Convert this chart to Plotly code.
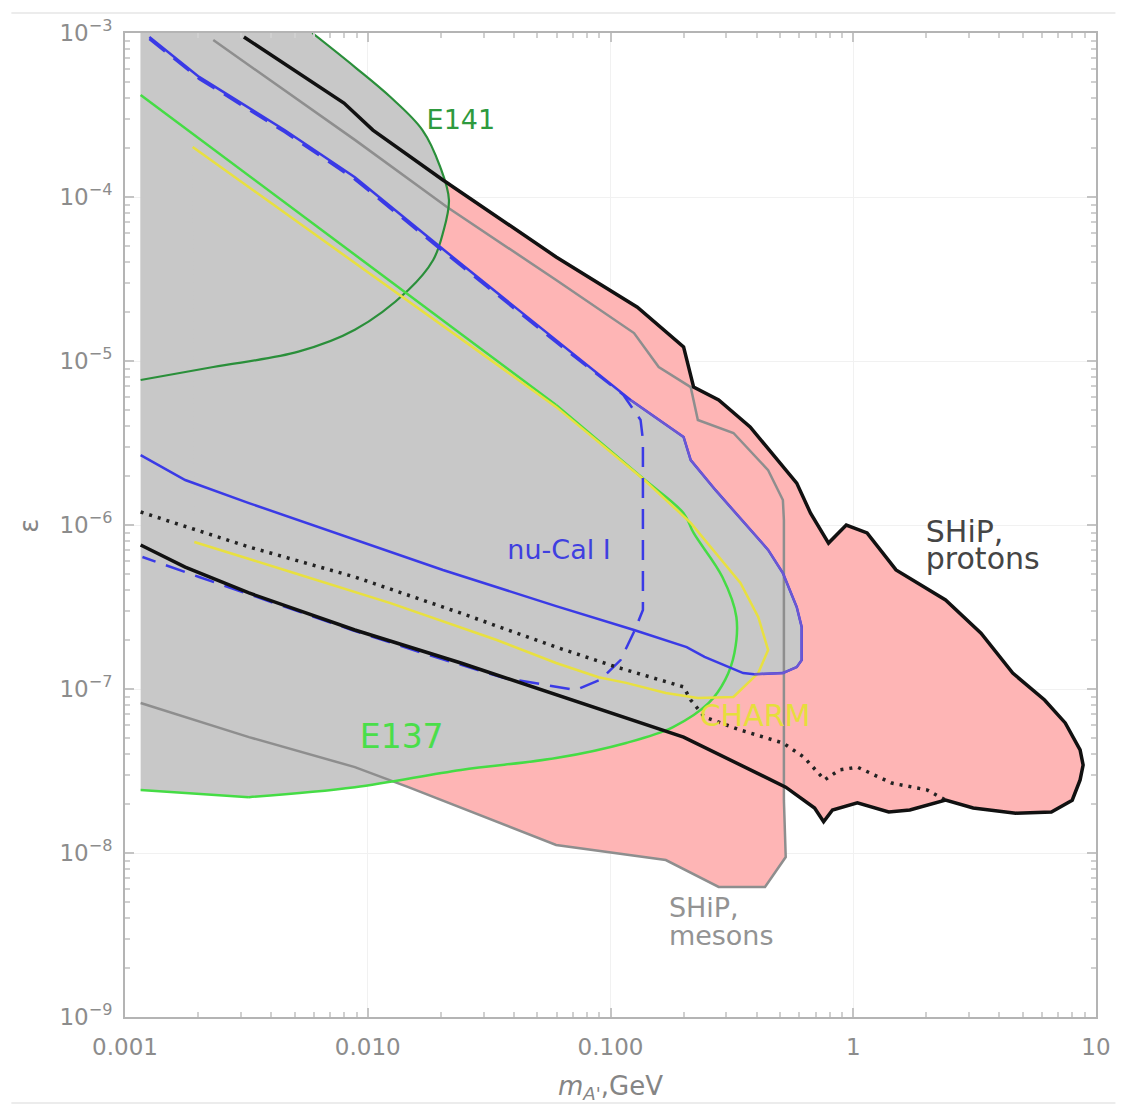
import plotly.graph_objects as go

# Lower edge of the computed mass grid and top of the plotted range
M_EDGE = 1.16e-3
EPS_TOP = 1e-3
# Pink areas are closed a little inside the grey band so no pink fringe shows at the edge
PINK_EDGE = 1.25e-3

# SHiP, protons: closed sensitivity contour
ship_p_mass = [3.09e-3, 7.98e-3, 1.05e-2, 2.04e-2, 5.97e-2, 0.129, 0.200, 0.220, 0.279, 0.376,
               0.585, 0.667, 0.791, 0.936, 1.14, 1.50, 2.40, 3.36, 4.54, 6.14, 7.47, 8.60, 8.85,
               8.60, 7.98, 6.55, 4.67, 3.12, 2.40, 1.71, 1.40, 1.04, 0.821, 0.755, 0.693, 0.527,
               0.200, 5.97e-2, 2.42e-2, 8.85e-3, 3.24e-3, 1.77e-3, 1.16e-3]
ship_p_eps = [9.45e-4, 3.74e-4, 2.56e-4, 1.27e-4, 4.31e-5, 2.13e-5, 1.22e-5, 6.93e-6, 5.78e-6, 3.96e-6,
              1.80e-6, 1.18e-6, 7.76e-7, 1.0e-6, 8.94e-7, 5.32e-7, 3.49e-7, 2.19e-7, 1.25e-7, 8.57e-8,
              6.21e-8, 4.25e-8, 3.44e-8, 2.79e-8, 2.10e-8, 1.78e-8, 1.75e-8, 1.88e-8, 2.10e-8, 1.83e-8,
              1.78e-8, 2.02e-8, 1.83e-8, 1.55e-8, 1.88e-8, 2.52e-8, 5.09e-8, 9.19e-8, 1.44e-7, 2.29e-7,
              3.85e-7, 5.54e-7, 7.55e-7]

# SHiP, mesons: open contour (both ends at the low-mass edge)
ship_m_mass = [2.31e-3, 8.85e-3, 2.12e-2, 5.97e-2, 0.125, 0.158, 0.214, 0.220, 0.229, 0.321, 0.446,
               0.513, 0.518, 0.518, 0.527, 0.433, 0.279, 0.169, 5.97e-2, 1.47e-2, 8.85e-3, 3.24e-3, 1.16e-3]
ship_m_eps = [9.06e-4, 2.23e-4, 8.69e-5, 3.12e-5, 1.48e-5, 9.19e-6, 6.93e-6, 5.78e-6, 4.37e-6, 3.64e-6,
              2.16e-6, 1.42e-6, 1.07e-6, 2.10e-8, 9.45e-9, 6.21e-9, 6.21e-9, 9.06e-9, 1.12e-8, 2.52e-8,
              3.34e-8, 5.09e-8, 8.22e-8]

# E141 excluded region boundary
e141_mass = [5.91e-3, 8.85e-3, 1.24e-2, 1.68e-2, 1.99e-2, 2.16e-2, 2.04e-2, 1.86e-2, 1.47e-2,
             8.85e-3, 5.18e-3, 2.31e-3, 1.16e-3]
e141_eps = [1.0e-3, 6.20e-4, 4.07e-4, 2.56e-4, 1.52e-4, 9.59e-5, 6.03e-5, 4.13e-5, 2.71e-5,
            1.55e-5, 1.14e-5, 9.19e-6, 7.66e-6]

# E137 excluded region boundary
e137_mass = [1.16e-3, 5.97e-2, 0.134, 0.200, 0.220, 0.289, 0.330, 0.324, 0.297, 0.254, 0.181,
             0.116, 5.97e-2, 2.42e-2, 8.85e-3, 3.24e-3, 1.16e-3]
e137_eps = [4.19e-4, 5.40e-6, 1.96e-6, 1.18e-6, 8.94e-7, 4.82e-7, 2.75e-7, 1.66e-7, 1.14e-7, 8.22e-8,
            5.86e-8, 4.69e-8, 3.79e-8, 3.21e-8, 2.52e-8, 2.19e-8, 2.42e-8]

# CHARM excluded region boundary
charm_mass = [1.90e-3, 5.97e-2, 0.138, 0.214, 0.343, 0.406, 0.446, 0.406, 0.321, 0.229, 0.169,
              0.116, 8.93e-2, 5.97e-2, 3.40e-2, 1.24e-2, 4.54e-3, 1.93e-3]
charm_eps = [2.02e-4, 5.25e-6, 1.88e-6, 1.03e-6, 4.43e-7, 2.75e-7, 1.73e-7, 1.25e-7, 8.94e-8, 8.81e-8,
             9.46e-8, 1.09e-7, 1.18e-7, 1.44e-7, 1.99e-7, 3.34e-7, 5.32e-7, 7.87e-7]

# nu-Cal I excluded region boundary
nucal_mass = [1.26e-3, 2.02e-3, 4.54e-3, 8.85e-3, 1.99e-2, 5.97e-2, 0.121, 0.200, 0.214, 0.271,
              0.446, 0.513, 0.585, 0.613, 0.613, 0.585, 0.513, 0.391, 0.352, 0.244, 0.206, 0.125,
              5.97e-2, 2.04e-2, 8.85e-3, 3.24e-3, 1.77e-3, 1.16e-3]
nucal_eps = [9.45e-4, 5.40e-4, 2.56e-4, 1.32e-4, 4.95e-5, 1.34e-5, 5.78e-6, 3.44e-6, 2.49e-6, 1.63e-6,
             7.05e-7, 5.09e-7, 3.16e-7, 2.39e-7, 1.50e-7, 1.36e-7, 1.25e-7, 1.23e-7, 1.25e-7, 1.57e-7,
             1.80e-7, 2.29e-7, 3.2e-7, 5.32e-7, 8.11e-7, 1.36e-6, 1.88e-6, 2.67e-6]

# nu-Cal I, alternative (dashed) boundary
nucal_alt_mass = [1.26e-3, 2.02e-3, 4.54e-3, 8.85e-3, 1.99e-2, 5.97e-2, 0.113, 0.133, 0.136, 0.136,
                  0.126, 0.110, 9.1e-2, 7.2e-2, 3.62e-2, 1.79e-2, 8.6e-3, 4.10e-3, 2.02e-3, 1.18e-3]
nucal_alt_eps = [9.2e-4, 5.25e-4, 2.49e-4, 1.28e-4, 4.8e-5, 1.3e-5, 6.21e-6, 4.37e-6, 3.30e-6, 3.03e-7,
                 2.29e-7, 1.50e-7, 1.14e-7, 9.86e-8, 1.17e-7, 1.61e-7, 2.29e-7, 3.34e-7, 4.82e-7, 6.38e-7]

# Dotted lower boundary
dotted_mass = [1.16e-3, 3.24e-3, 8.85e-3, 2.42e-2, 5.97e-2, 0.106, 0.200, 0.214, 0.244, 0.343,
               0.513, 0.625, 0.762, 0.877, 1.04, 1.44, 2.02, 2.40]
dotted_eps = [1.20e-6, 7.35e-7, 4.82e-7, 2.90e-7, 1.80e-7, 1.36e-7, 1.03e-7, 8.57e-8, 6.75e-8, 5.62e-8,
              4.69e-8, 3.85e-8, 2.79e-8, 3.21e-8, 3.34e-8, 2.67e-8, 2.42e-8, 2.10e-8]

# Axis ticks
x_tickvals = [1e-3, 1e-2, 1e-1, 1, 10]
x_ticktext = ["0.001", "0.010", "0.100", "1", "10"]
y_exponents = [-9, -8, -7, -6, -5, -4, -3]

PINK = "#feb5b5"
GREY_FILL = "#c8c8c8"
FONT = "DejaVu Sans"

fig = go.Figure()


def add_fill(xs, ys, color):
    fig.add_trace(go.Scatter(x=xs, y=ys, mode="lines", fill="toself", fillcolor=color,
                             line=dict(width=0, color=color), hoverinfo="skip", showlegend=False))


def add_line(xs, ys, color, width, dash="solid", shape="linear"):
    fig.add_trace(go.Scatter(x=xs, y=ys, mode="lines",
                             line=dict(color=color, width=width, dash=dash, shape=shape),
                             hoverinfo="skip", showlegend=False))


def add_label(x, y, text, color, size, pos="middle center"):
    fig.add_trace(go.Scatter(x=[x], y=[y], mode="text", text=[text], textposition=pos,
                             textfont=dict(family=FONT, size=size, color=color),
                             hoverinfo="skip", showlegend=False))


# SHiP sensitivity (pink)
add_fill(ship_p_mass[:-1] + [PINK_EDGE, PINK_EDGE], ship_p_eps[:-1] + [ship_p_eps[-1], EPS_TOP], PINK)
add_fill(ship_m_mass[:-1] + [PINK_EDGE, PINK_EDGE], ship_m_eps[:-1] + [ship_m_eps[-1], EPS_TOP], PINK)

# Already excluded regions (grey)
add_fill(e141_mass + [M_EDGE], e141_eps + [EPS_TOP], GREY_FILL)
add_fill(e137_mass, e137_eps, GREY_FILL)
add_fill(nucal_mass + [M_EDGE], nucal_eps + [EPS_TOP], GREY_FILL)
add_fill(charm_mass, charm_eps, GREY_FILL)

# Boundaries
add_line(ship_m_mass, ship_m_eps, "#8e8e8e", 2.5)
add_line(e141_mass, e141_eps, "#2a8f3a", 2.2, shape="spline")
add_line(e137_mass[1:-1], e137_eps[1:-1], "#45dc45", 2.5, shape="spline")
add_line(e137_mass[:2], e137_eps[:2], "#45dc45", 2.5)
add_line(e137_mass[-2:], e137_eps[-2:], "#45dc45", 2.5)
add_line(charm_mass, charm_eps, "#e8e040", 2.5)
add_line(nucal_mass, nucal_eps, "#3a3ae6", 2.5)
add_line(nucal_mass[6:18], nucal_eps[6:18], "#6c58d2", 2.2)
add_line(nucal_alt_mass, nucal_alt_eps, "#3a3ae6", 2.5, dash="20px,11px")
add_line(dotted_mass, dotted_eps, "#222222", 3.5, dash="3px,6px")
add_line(ship_p_mass, ship_p_eps, "#111111", 3.5)

# Labels
add_label(2.42e-2, 2.86e-4, "E141", "#2e9a3e", 27)
add_label(1.38e-2, 4.89e-8, "E137", "#4ade4a", 33)
add_label(6.14e-2, 6.84e-7, "nu-Cal I", "#3f3fe0", 27)
add_label(0.394, 6.65e-8, "CHARM", "#e5de3c", 30)
add_label(1.99, 8.81e-7, "SHiP,", "#454545", 30, "middle right")
add_label(1.99, 5.99e-7, "protons", "#454545", 30, "middle right")
add_label(0.174, 4.46e-9, "SHiP,", "#939393", 27, "middle right")
add_label(0.174, 3.01e-9, "mesons", "#939393", 27, "middle right")

minor_y = [k * 10.0 ** p for p in range(-9, -3) for k in range(2, 10)]
minor_x = [k * 10.0 ** p for p in range(-3, 1) for k in range(2, 10)]

axis_common = dict(
    showline=True, linecolor="#b4b4b4", linewidth=2, mirror="ticks",
    ticks="inside", ticklen=9, tickcolor="#c4c4c4", tickwidth=1.5,
    showgrid=True, gridcolor="#f1f1f1", gridwidth=1, zeroline=False,
    tickfont=dict(family=FONT, size=23, color="#8c8c8c"),
)

fig.update_xaxes(type="log", range=[-3, 1], tickmode="array", tickvals=x_tickvals,
                 ticktext=x_ticktext, ticklabelstandoff=8,
                 minor=dict(tickmode="array", tickvals=minor_x, ticks="inside", ticklen=5,
                            tickcolor="#d0d0d0", showgrid=False),
                 **axis_common)
fig.update_yaxes(type="log", range=[-9, -3], tickmode="array",
                 tickvals=[10.0 ** e for e in y_exponents],
                 ticktext=["10<sup>\u2212%d</sup>" % (-e) for e in y_exponents],
                 ticklabelstandoff=6,
                 minor=dict(tickmode="array", tickvals=minor_y, ticks="inside", ticklen=5,
                            tickcolor="#d0d0d0", showgrid=False),
                 **axis_common)

fig.update_layout(
    width=1123, height=1106,
    margin=dict(l=125, r=18, t=33, b=89),
    paper_bgcolor="white", plot_bgcolor="white",
    showlegend=False,
    annotations=[
        dict(xref="paper", yref="paper", x=0.5, y=-0.072, xanchor="center", yanchor="middle",
             text="<i>m</i><sub><i>A'</i></sub>,GeV", showarrow=False,
             font=dict(family=FONT, size=26, color="#858585")),
        dict(xref="paper", yref="paper", x=-0.099, y=0.499, xanchor="center", yanchor="middle",
             text="\u03b5", textangle=-90, showarrow=False,
             font=dict(family=FONT, size=26, color="#858585")),
    ],
    shapes=[
        dict(type="line", xref="paper", yref="paper", x0=-0.117, x1=1.02, y0=1.0203, y1=1.0203,
             line=dict(color="#ececec", width=2)),
        dict(type="line", xref="paper", yref="paper", x0=-0.117, x1=1.02, y0=-0.0874, y1=-0.0874,
             line=dict(color="#ececec", width=2)),
    ],
)

fig.write_html("out.html")
